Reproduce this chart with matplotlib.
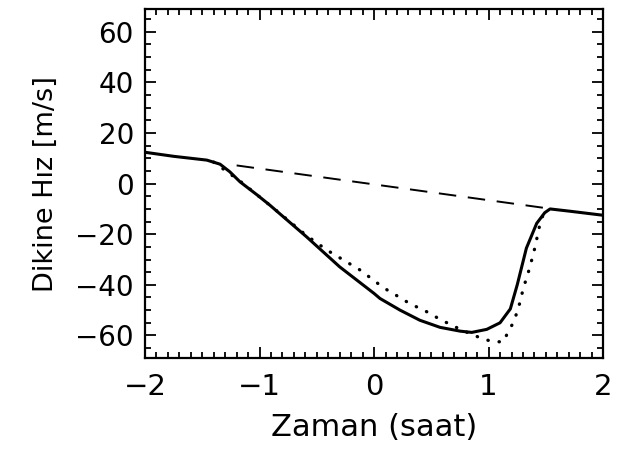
import numpy as np
import matplotlib
matplotlib.use("Agg")
import matplotlib.pyplot as plt
from matplotlib.ticker import MultipleLocator

# veri
t_solid = [-2.0, -1.75, -1.46, -1.345, -1.26, -1.17, -1.02, -0.91, -0.59, -0.30,
           0.0, 0.052, 0.227, 0.40, 0.576, 0.751, 0.853, 0.984, 1.10, 1.19,
           1.25, 1.33, 1.42, 1.49, 1.537, 1.71, 2.0]
v_solid = [12.4, 10.8, 9.3, 7.7, 4.7, 0.7, -4.5, -8.5, -21.0, -32.9,
           -43.4, -45.4, -50.0, -54.0, -56.8, -58.3, -58.8, -57.6, -55.0, -49.5,
           -40.0, -25.5, -15.7, -11.5, -10.0, -10.9, -12.5]

t_dot = [-1.40, -1.17, -0.91, -0.59, -0.41, -0.12, 0.052, 0.14, 0.227, 0.31,
         0.40, 0.49, 0.576, 0.66, 0.766, 0.94, 1.04, 1.13, 1.17, 1.22,
         1.25, 1.28, 1.30, 1.33, 1.36, 1.386, 1.41, 1.43, 1.45, 1.48, 1.52]
v_dot = [8.5, 1.0, -8.5, -20.5, -26.3, -34.2, -40.1, -42.8, -45.0, -47.4,
         -49.3, -51.3, -53.7, -55.5, -57.9, -61.2, -62.5, -62.5, -58.6, -54.6,
         -50.5, -46.0, -41.8, -37.5, -33.1, -28.5, -24.3, -19.7, -15.7, -11.8, -10.3]

t_dash = [-1.20, 1.52]
v_dash = [7.2, -9.8]

plt.rcParams['font.family'] = ['DejaVu Sans']

fig = plt.figure(figsize=(6.25, 4.54), dpi=100)
ax = fig.add_axes([0.232, 0.211, 0.733, 0.769])

ax.plot(t_solid, v_solid, color='black', lw=2.2, solid_joinstyle='round')
ax.plot(t_dot, v_dot, color='black', lw=2.4, linestyle=(0, (0.1, 3.3)),
        dash_capstyle='round')
ax.plot(t_dash, v_dash, color='black', lw=1.4, linestyle=(0, (9, 6)))

ax.set_xlim(-2, 2)
ax.set_ylim(-69, 69)
ax.xaxis.set_major_locator(MultipleLocator(1))
ax.xaxis.set_minor_locator(MultipleLocator(0.1))
ax.yaxis.set_major_locator(MultipleLocator(20))
ax.yaxis.set_minor_locator(MultipleLocator(5))
ax.tick_params(which='both', direction='in', top=True, right=True, width=1.3)
ax.tick_params(which='major', length=8, pad=8)
ax.tick_params(axis='x', which='major', labelsize=21, pad=11)
ax.tick_params(axis='y', which='major', labelsize=20)
ax.tick_params(which='minor', length=4)
for s in ax.spines.values():
    s.set_linewidth(1.6)

ax.set_xlabel('Zaman (saat)', fontsize=22, labelpad=8)
ax.set_ylabel('Dikine Hız [m/s]', fontsize=19.5, labelpad=12)

fig.savefig('out.png', dpi=100)
